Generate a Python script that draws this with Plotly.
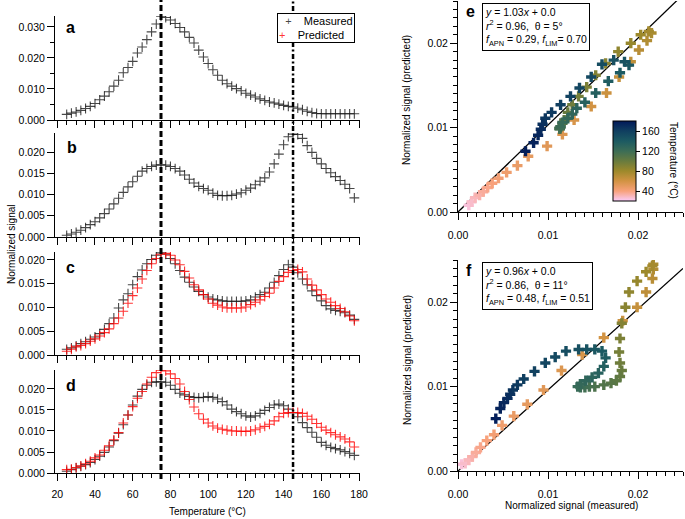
import plotly.graph_objects as go

W, H = 685, 519
def px(x):
    return x / W
def py(y):
    return 1 - y / H

FONT = "Liberation Sans, Arial, Helvetica, sans-serif"

# ---------------- data ----------------
temperature = [25.0, 27.5, 30.0, 32.5, 35.0, 37.5, 40.0, 42.5, 45.0, 47.5,
               50.0, 52.5, 55.0, 57.5, 60.0, 62.5, 65.0, 67.5, 70.0, 72.5,
               75.0, 77.5, 80.0, 82.5, 85.0, 87.5, 90.0, 92.5, 95.0, 97.5,
               100.0, 102.5, 105.0, 107.5, 110.0, 112.5, 115.0, 117.5, 120.0, 122.5,
               125.0, 127.5, 130.0, 132.5, 135.0, 137.5, 140.0, 142.5, 145.0, 147.5,
               150.0, 152.5, 155.0, 157.5, 160.0, 162.5, 165.0, 167.5, 170.0, 172.5,
               175.0, 177.5]

sig_a_meas = [0.0018, 0.0022, 0.0026, 0.0031, 0.0037, 0.0044, 0.0053, 0.0065, 0.0077, 0.0091,
              0.0109, 0.0128, 0.0152, 0.0169, 0.0189, 0.0216, 0.0235, 0.0259, 0.0284, 0.0309,
              0.0334, 0.0330, 0.0322, 0.0311, 0.0298, 0.0284, 0.0266, 0.0248, 0.0225, 0.0203,
              0.0182, 0.0162, 0.0144, 0.0128, 0.0117, 0.0109, 0.0101, 0.0094, 0.0086, 0.0080,
              0.0074, 0.0068, 0.0063, 0.0058, 0.0055, 0.0051, 0.0047, 0.0044, 0.0042, 0.0038,
              0.0033, 0.0028, 0.0024, 0.0021, 0.0020, 0.0020, 0.0020, 0.0020, 0.0020, 0.0020,
              0.0020, 0.0020]

sig_b_meas = [0.0004, 0.0007, 0.0011, 0.0016, 0.0022, 0.0029, 0.0036, 0.0045, 0.0055, 0.0066,
              0.0078, 0.0091, 0.0105, 0.0118, 0.0130, 0.0143, 0.0155, 0.0161, 0.0166, 0.0169,
              0.0170, 0.0169, 0.0166, 0.0161, 0.0155, 0.0146, 0.0136, 0.0127, 0.0119, 0.0114,
              0.0110, 0.0103, 0.0098, 0.0097, 0.0097, 0.0098, 0.0101, 0.0104, 0.0110, 0.0115,
              0.0123, 0.0131, 0.0139, 0.0153, 0.0172, 0.0195, 0.0217, 0.0236, 0.0242, 0.0241,
              0.0232, 0.0215, 0.0199, 0.0185, 0.0172, 0.0161, 0.0151, 0.0142, 0.0133, 0.0124,
              0.0114, 0.0092]

sig_c_meas = [0.0012, 0.0015, 0.0019, 0.0024, 0.0028, 0.0033, 0.0038, 0.0045, 0.0054, 0.0066,
              0.0078, 0.0099, 0.0116, 0.0129, 0.0148, 0.0165, 0.0179, 0.0192, 0.0201, 0.0210,
              0.0215, 0.0212, 0.0203, 0.0192, 0.0178, 0.0164, 0.0153, 0.0143, 0.0134, 0.0127,
              0.0122, 0.0118, 0.0116, 0.0114, 0.0113, 0.0113, 0.0113, 0.0113, 0.0114, 0.0116,
              0.0122, 0.0127, 0.0132, 0.0141, 0.0153, 0.0167, 0.0180, 0.0190, 0.0185, 0.0173,
              0.0160, 0.0148, 0.0135, 0.0125, 0.0114, 0.0104, 0.0097, 0.0094, 0.0092, 0.0089,
              0.0084, 0.0075]

sig_c_pred = [0.0008, 0.0012, 0.0017, 0.0020, 0.0024, 0.0029, 0.0034, 0.0040, 0.0047, 0.0055,
              0.0066, 0.0078, 0.0092, 0.0109, 0.0125, 0.0141, 0.0160, 0.0178, 0.0192, 0.0203,
              0.0212, 0.0214, 0.0210, 0.0200, 0.0190, 0.0176, 0.0162, 0.0148, 0.0137, 0.0127,
              0.0118, 0.0109, 0.0105, 0.0101, 0.0099, 0.0099, 0.0099, 0.0099, 0.0101, 0.0106,
              0.0111, 0.0116, 0.0123, 0.0130, 0.0141, 0.0155, 0.0165, 0.0174, 0.0178, 0.0180,
              0.0175, 0.0160, 0.0147, 0.0137, 0.0127, 0.0118, 0.0111, 0.0104, 0.0098, 0.0091,
              0.0082, 0.0072]

sig_d_meas = [0.0004, 0.0008, 0.0012, 0.0016, 0.0020, 0.0025, 0.0032, 0.0040, 0.0049, 0.0062,
              0.0077, 0.0095, 0.0115, 0.0138, 0.0162, 0.0183, 0.0199, 0.0209, 0.0216, 0.0217,
              0.0217, 0.0216, 0.0209, 0.0199, 0.0190, 0.0186, 0.0182, 0.0180, 0.0179, 0.0180,
              0.0182, 0.0180, 0.0176, 0.0170, 0.0162, 0.0152, 0.0146, 0.0141, 0.0136, 0.0133,
              0.0136, 0.0142, 0.0149, 0.0156, 0.0162, 0.0164, 0.0160, 0.0152, 0.0143, 0.0134,
              0.0120, 0.0108, 0.0097, 0.0085, 0.0073, 0.0066, 0.0061, 0.0058, 0.0055, 0.0051,
              0.0047, 0.0042]

sig_d_pred = [0.0008, 0.0009, 0.0013, 0.0017, 0.0022, 0.0028, 0.0036, 0.0043, 0.0054, 0.0065,
              0.0079, 0.0096, 0.0119, 0.0138, 0.0158, 0.0178, 0.0194, 0.0212, 0.0228, 0.0239,
              0.0245, 0.0243, 0.0236, 0.0225, 0.0212, 0.0194, 0.0175, 0.0157, 0.0141, 0.0128,
              0.0119, 0.0112, 0.0107, 0.0104, 0.0102, 0.0100, 0.0100, 0.0099, 0.0099, 0.0100,
              0.0103, 0.0107, 0.0111, 0.0116, 0.0124, 0.0134, 0.0142, 0.0144, 0.0144, 0.0144,
              0.0142, 0.0135, 0.0128, 0.0118, 0.0109, 0.0102, 0.0096, 0.0091, 0.0086, 0.0081,
              0.0074, 0.0062]

peak_temps = [75, 145]
slope_e, intercept_e = 1.03, 0.0
slope_f, intercept_f = 0.96, 0.0
colorbar_ticks = [40, 80, 120, 160]
series_names = ["Measured", "Predicted"]

# ---------------- styling ----------------
BLACK_M = "rgba(0,0,0,0.72)"
RED_M = "rgba(255,0,0,0.80)"
batlow_r = [
    [0.0, "#FACCFA"], [0.125, "#F8A17B"], [0.25, "#D29343"], [0.375, "#9D892B"],
    [0.5, "#687B3E"], [0.625, "#3C6D56"], [0.75, "#1C5A62"], [0.875, "#103F60"],
    [1.0, "#011959"],
]

fig = go.Figure()

left = [
    ("x", "y", sig_a_meas, None),
    ("x2", "y2", sig_b_meas, None),
    ("x3", "y3", sig_c_meas, sig_c_pred),
    ("x4", "y4", sig_d_meas, sig_d_pred),
]
for i, (xa, ya, meas, pred) in enumerate(left):
    fig.add_trace(go.Scatter(
        x=temperature, y=meas, mode="markers", name=series_names[0],
        marker=dict(symbol="cross-thin", size=7, line=dict(width=1.1, color=BLACK_M)),
        xaxis=xa, yaxis=ya, showlegend=False))
    if pred is not None:
        fig.add_trace(go.Scatter(
            x=temperature, y=pred, mode="markers", name=series_names[1],
            marker=dict(symbol="cross-thin", size=7, line=dict(width=1.1, color=RED_M)),
            xaxis=xa, yaxis=ya, showlegend=False))

AX_MAX = 0.025
for xa, ya, slope, icpt, mx, pr in [("x5", "y5", slope_e, intercept_e, sig_c_meas, sig_c_pred),
                                    ("x6", "y6", slope_f, intercept_f, sig_d_meas, sig_d_pred)]:
    fig.add_trace(go.Scatter(
        x=[0, AX_MAX], y=[icpt, icpt + slope * AX_MAX], mode="lines",
        line=dict(color="black", width=1.3), xaxis=xa, yaxis=ya, showlegend=False,
        hoverinfo="skip"))
    fig.add_trace(go.Scatter(
        x=mx, y=pr, mode="markers",
        marker=dict(symbol="cross", size=8.5, color=temperature, coloraxis="coloraxis",
                    line=dict(width=0)),
        xaxis=xa, yaxis=ya, showlegend=False))

base = dict(showline=True, linecolor="black", linewidth=1, ticks="outside",
            tickcolor="black", tickwidth=1, showgrid=False, zeroline=False,
            tickfont=dict(size=10.5, family=FONT, color="black"))

layout = dict(
    width=W, height=H, margin=dict(l=0, r=0, t=0, b=0, autoexpand=False),
    paper_bgcolor="white", plot_bgcolor="white",
    font=dict(family=FONT, size=11, color="black"),
    showlegend=False,
    coloraxis=dict(colorscale=batlow_r, cmin=20, cmax=180,
                   colorbar=dict(x=px(613), xanchor="left", y=py(121), yanchor="top",
                                 len=80 / H, lenmode="fraction", thickness=23,
                                 thicknessmode="pixels", outlinewidth=1, outlinecolor="black",
                                 ticks="outside", ticklen=4, tickcolor="black",
                                 tickvals=colorbar_ticks, tickfont=dict(size=10.5),
                                 xpad=0, ypad=0)),
)

left_dom_y = [(16, 120, 0.0335, 0.010, 0.005),
              (133, 237, 0.02447, 0.005, None),
              (252, 355, 0.02168, 0.005, None),
              (370, 473, 0.02452, 0.005, None)]
for k, (top, bot, ymax, dt, mdt) in enumerate(left_dom_y):
    n = "" if k == 0 else str(k + 1)
    layout["xaxis" + n] = dict(base, domain=[px(55), px(360)], range=[18.8, 180.5],
                               anchor="y" + n, tick0=20, dtick=20, ticklen=7,
                               showticklabels=(k == 3), ticklabelstandoff=4,
                               minor=dict(dtick=5, tick0=20, ticklen=4, ticks="outside",
                                          tickcolor="black", showgrid=False))
    yax = dict(base, domain=[py(bot), py(top)], range=[0, ymax], anchor="x" + n,
               tick0=0, dtick=dt, ticklen=7, tickformat=".3f")
    if mdt:
        yax["minor"] = dict(dtick=mdt, ticklen=4, ticks="outside", tickcolor="black",
                            showgrid=False)
    layout["yaxis" + n] = yax

for n, (top, bot) in zip(["5", "6"], [(1, 212), (260, 471)]):
    layout["xaxis" + n] = dict(base, domain=[px(458), px(683)], range=[0, AX_MAX],
                               anchor="y" + n, tick0=0, dtick=0.01, ticklen=7,
                               tickformat=".2f", ticklabelstandoff=6,
                               minor=dict(dtick=0.001, ticklen=4, ticks="outside",
                                          tickcolor="black", showgrid=False))
    layout["yaxis" + n] = dict(base, domain=[py(bot), py(top)], range=[0, AX_MAX],
                               anchor="x" + n, tick0=0, dtick=0.01, ticklen=7,
                               tickformat=".2f",
                               minor=dict(dtick=0.001, ticklen=4, ticks="outside",
                                          tickcolor="black", showgrid=False))

fig.update_layout(**layout)

# vertical reference lines
for t, dash, w in [(peak_temps[0], "6px,3px", 3), (peak_temps[1], "5px,2.5px,2px,2.5px", 2.5)]:
    fig.add_shape(type="line", xref="x4", yref="paper", x0=t, x1=t, y0=py(479), y1=1,
                  line=dict(color="black", width=w, dash=dash), layer="above")

ann = []
for letter, (ax, ay) in zip("abcdef", [(70.5, 27), (71.5, 148), (70.5, 267), (71, 385),
                                         (470, 12), (469, 270)]):
    ann.append(dict(text="<b>%s</b>" % letter, x=px(ax), y=py(ay), xref="paper",
                    yref="paper", showarrow=False, font=dict(size=16, family=FONT),
                    xanchor="center", yanchor="middle"))

# legend box (panel a)
NB = "\u00a0"
legend_txt = ("<span style='color:%s'>+</span>%s%s<br><span style='color:%s'>+</span>%s%s"
              % (BLACK_M, NB * 4, series_names[0], RED_M, NB * 4, series_names[1]))
ann.append(dict(text=NB + NB + legend_txt, x=px(277), y=py(13), xref="paper", yref="paper",
                showarrow=False, align="left", xanchor="left", yanchor="top",
                bordercolor="black", borderwidth=1, borderpad=1, bgcolor="white",
                font=dict(size=11, family=FONT)))

box_e = ("<i>y</i> = %.2f<i>x</i> + %.1f<br><i>r</i><sup>2</sup> = 0.96,  θ = 5°<br>"
         "<i>f</i><sub>APN</sub> = 0.29, <i>f</i><sub>LIM</sub>= 0.70") % (slope_e, intercept_e)
box_f = ("<i>y</i> = %.2f<i>x</i> + %.1f<br><i>r</i><sup>2</sup> = 0.86,  θ = 11°<br>"
         "<i>f</i><sub>APN</sub> = 0.48, <i>f</i><sub>LIM</sub> = 0.51") % (slope_f, intercept_f)
for txt, (bx, by) in [(box_e, (482, 3)), (box_f, (482, 262))]:
    ann.append(dict(text=txt, x=px(bx), y=py(by), xref="paper", yref="paper",
                    showarrow=False, align="left", xanchor="left", yanchor="top",
                    bordercolor="black", borderwidth=1, borderpad=2, bgcolor="white",
                    font=dict(size=10.5, family=FONT)))

titles = [
    ("Temperature (°C)", 207.5, 511, 0),
    ("Normalized signal", 11, 245, -90),
    ("Normalized signal (predicted)", 407, 100, -90),
    ("Normalized signal (predicted)", 407, 360, -90),
    ("Normalized signal (measured)", 571, 505, 0),
    ("Temperature (°C)", 673, 160, 90),
]
for txt, tx, ty, ang in titles:
    ann.append(dict(text=txt, x=px(tx), y=py(ty), xref="paper", yref="paper",
                    showarrow=False, textangle=ang, xanchor="center", yanchor="middle",
                    font=dict(size=10, family=FONT)))

fig.update_layout(annotations=ann)
fig.write_html("out.html", config={"displayModeBar": False},
               post_script="document.body.style.margin='0';document.body.style.overflow='hidden';")
